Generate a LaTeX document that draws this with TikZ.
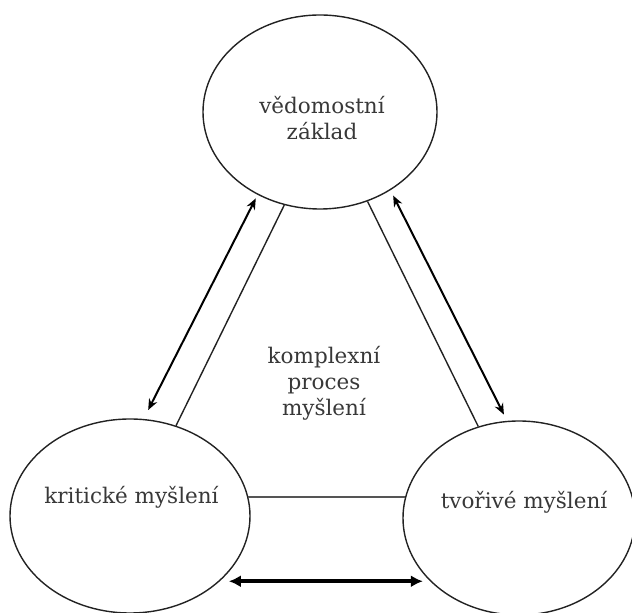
\documentclass[tikz,border=0pt]{standalone}
\usepackage{fontspec}
\setmainfont{DejaVu Serif}
\usetikzlibrary{shapes.geometric,arrows.meta}
\definecolor{txt}{HTML}{383838}
\definecolor{ln}{HTML}{222222}
\definecolor{lnlight}{HTML}{555555}
\begin{document}
\begin{tikzpicture}[x=1pt,y=1pt,
  bubble/.style={ellipse,draw=ln,line width=1.4pt,inner sep=0pt},
  lbl/.style={text=txt,font=\fontsize{21.5}{26}\selectfont,align=center,inner sep=0pt},
  link/.style={draw=ln,line width=1.4pt},
  twoway/.style={draw=black,line width=2pt,{Stealth[length=11pt,width=9pt]}-{Stealth[length=11pt,width=9pt]}},
  bigway/.style={draw=black,line width=4.2pt,{Latex[length=12pt,width=12pt]}-{Latex[length=12pt,width=12pt]}}]
\useasboundingbox (0,0) rectangle (632,613);
\node[bubble,minimum width=234pt,minimum height=194pt] (T) at (320,501) {};
\node[bubble,minimum width=240pt,minimum height=194pt] (L) at (130,97) {};
\node[bubble,minimum width=232pt,minimum height=194pt] (R) at (519,95) {};
\node[lbl] (tT) at (322,495) {vědomostní\\základ};
\node[lbl,anchor=base] (tL) at (131.5,109.5) {kritické myšlení};
\node[lbl,anchor=base] (tR) at (524,104.5) {tvořivé myšlení};
\node[lbl] (tM) at (324,229.7) {komplexní\\proces\\myšlení};
\draw[link] (T.-111.7) -- (L.63.9);
\draw[link] (T.-62.4) -- (R.114.5);
\draw[twoway,shorten <=4pt,shorten >=10pt] (T.-127.1) -- (L.82.1);
\draw[twoway,shorten <=6pt,shorten >=7pt] (T.-48.2) -- (R.97.7);
\draw[link,draw=lnlight,line width=1.6pt] (L.9.2) -- (L.9.2 -| R.169.5);
\draw[bigway,shorten <=9pt,shorten >=8pt] (L.-36.1) -- (L.-36.1 -| R.-144.5);
\end{tikzpicture}
\end{document}
